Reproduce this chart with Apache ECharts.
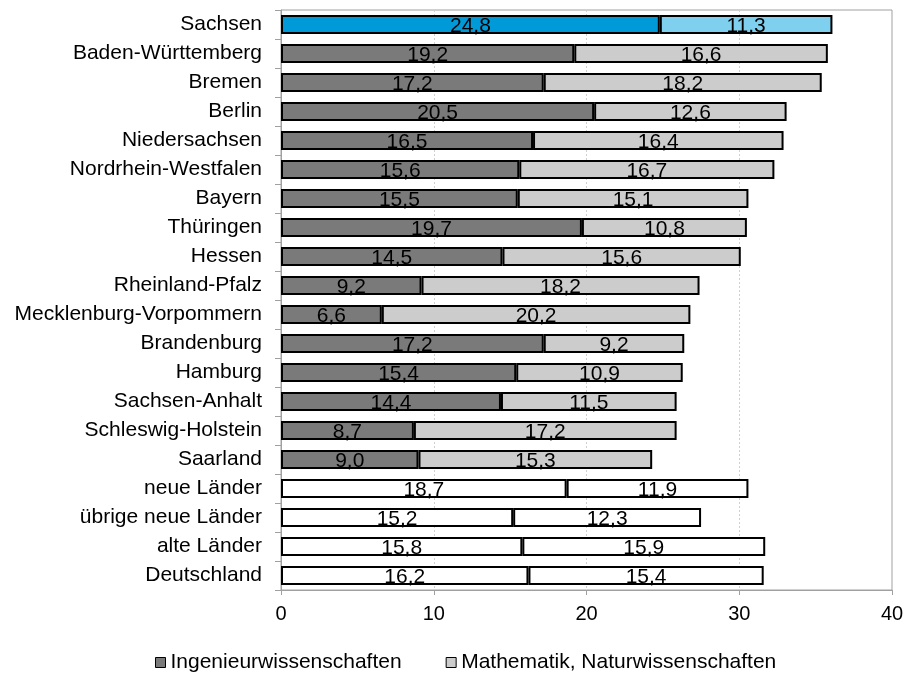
<!DOCTYPE html>
<html><head><meta charset="utf-8">
<script src="https://cdn.jsdelivr.net/npm/echarts@6/dist/echarts.min.js"></script>
<style>html,body{margin:0;padding:0;background:#fff}#c{width:907px;height:676px}</style>
</head><body><div id="c"></div>
<script>
const categories = ["Sachsen","Baden-Württemberg","Bremen","Berlin","Niedersachsen","Nordrhein-Westfalen","Bayern","Thüringen","Hessen","Rheinland-Pfalz","Mecklenburg-Vorpommern","Brandenburg","Hamburg","Sachsen-Anhalt","Schleswig-Holstein","Saarland","neue Länder","übrige neue Länder","alte Länder","Deutschland"];
const ingenieur = [24.8,19.2,17.2,20.5,16.5,15.6,15.5,19.7,14.5,9.2,6.6,17.2,15.4,14.4,8.7,9.0,18.7,15.2,15.8,16.2];
const mathe = [11.3,16.6,18.2,12.6,16.4,16.7,15.1,10.8,15.6,18.2,20.2,9.2,10.9,11.5,17.2,15.3,11.9,12.3,15.9,15.4];
const xTicks = [0,10,20,30,40];
const highlight = ["Sachsen"];
const aggregates = ["neue Länder","übrige neue Länder","alte Länder","Deutschland"];

function colorFor(name, s){
  if (highlight.includes(name)) return s===0 ? '#009AD9' : '#7FCFEF';
  if (aggregates.includes(name)) return '#FFFFFF';
  return s===0 ? '#7A7A7A' : '#CCCCCC';
}
function mk(vals, s){
  return vals.map((v,i)=>({value:v, itemStyle:{color:colorFor(categories[i], s)}}));
}
const FF = 'Liberation Sans, Arial, sans-serif';
const fmt = p => p.value.toFixed(1).replace('.', ',');
const chart = echarts.init(document.getElementById('c'));
chart.setOption({
  animation:false,
  textStyle:{fontFamily:FF},
  grid:{left:281,right:15,top:10,bottom:86,show:true,borderColor:'#A0A0A0',borderWidth:1},
  legend:{top:647,left:150,itemWidth:10,itemHeight:10,itemGap:44,icon:'rect',
    textStyle:{fontSize:21,color:'#000',fontFamily:FF},
    data:[{name:'Ingenieurwissenschaften',itemStyle:{color:'#7A7A7A',borderColor:'#000',borderWidth:1}},
          {name:'Mathematik, Naturwissenschaften',itemStyle:{color:'#CCCCCC',borderColor:'#000',borderWidth:1}}]},
  xAxis:{type:'value',min:xTicks[0],max:xTicks[xTicks.length-1],interval:10,
    axisLine:{show:true,lineStyle:{color:'#A0A0A0'}},
    axisTick:{show:true,length:5,lineStyle:{color:'#A0A0A0'}},
    axisLabel:{fontSize:20,color:'#000',margin:14,fontFamily:FF},
    splitLine:{show:true,lineStyle:{color:'#D0D0D0',type:[2,2]}}},
  yAxis:{type:'category',data:categories,inverse:true,
    axisLine:{show:true,lineStyle:{color:'#A0A0A0'}},
    axisTick:{show:true,length:6,lineStyle:{color:'#A0A0A0'}},
    axisLabel:{fontSize:21,color:'#000',margin:19,fontFamily:FF}},
  series:[
    {name:'Ingenieurwissenschaften',type:'bar',stack:'a',barWidth:19,data:mk(ingenieur,0),
     itemStyle:{borderColor:'#000',borderWidth:2},
     label:{show:true,position:'inside',formatter:fmt,fontSize:21,color:'#000',offset:[0,2],fontFamily:FF}},
    {name:'Mathematik, Naturwissenschaften',type:'bar',stack:'a',barWidth:19,data:mk(mathe,1),
     itemStyle:{borderColor:'#000',borderWidth:2},
     label:{show:true,position:'inside',formatter:fmt,fontSize:21,color:'#000',offset:[0,2],fontFamily:FF}}
  ]
});
</script></body></html>
